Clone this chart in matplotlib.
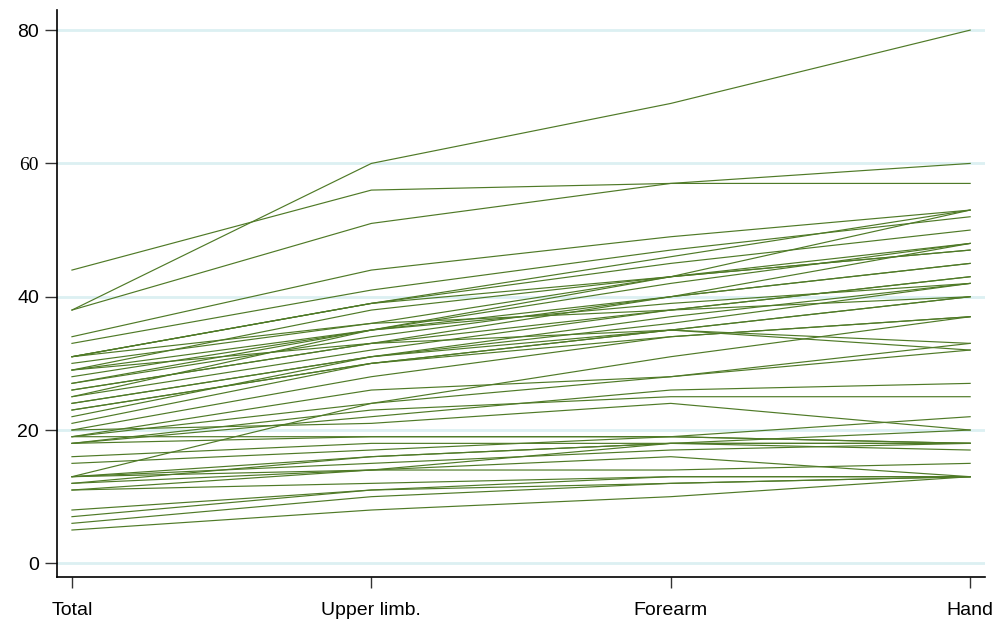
import matplotlib
matplotlib.use("Agg")
import matplotlib.pyplot as plt
import numpy as np

# Scores per subject, one entry per subject in each region
regions = ["Total", "Upper limb.", "Forearm", "Hand"]
total = [44, 38, 38, 34, 33, 31, 31, 31, 30, 29, 29, 28, 27, 27, 26, 26, 25, 25,
         24, 24, 23, 23, 22, 21, 29, 20, 19, 13, 19, 18, 20, 18, 19, 16, 15, 13,
         12, 13, 11, 12, 11, 13, 8, 7, 6, 5, 31, 18]
upper = [56, 60, 51, 44, 41, 39, 39, 39, 36, 35, 38, 35, 35, 34, 33, 33, 32, 35,
         31, 31, 30, 30, 31, 30, 33, 28, 24, 24, 26, 22, 21, 23, 19, 18, 17, 16,
         16, 15, 14, 14, 12, 14, 11, 11, 10, 8, 36, 19]
forearm = [57, 69, 57, 49, 47, 46, 45, 43, 43, 42, 43, 40, 43, 40, 40, 38, 38, 39,
           37, 35, 35, 34, 36, 35, 35, 34, 31, 28, 28, 26, 24, 25, 19, 18, 19, 18,
           18, 17, 16, 14, 13, 18, 12, 13, 12, 10, 38, 19]
hand = [57, 80, 60, 53, 52, 53, 50, 48, 53, 48, 47, 48, 47, 45, 45, 43, 43, 42,
        42, 40, 40, 37, 42, 33, 32, 37, 37, 32, 33, 27, 20, 25, 22, 20, 18, 18,
        18, 18, 13, 15, 13, 17, 13, 13, 13, 13, 40, 18]

line_color = "#4f7a27"
grid_color = "#dcf0f2"

plt.rcParams["font.family"] = ["Liberation Sans", "DejaVu Sans"]

fig = plt.figure(figsize=(9.98, 6.25), dpi=100)
ax = fig.add_axes([0.0571, 0.0768, 0.930, 0.907])

x = np.arange(len(regions))
for i in range(len(total)):
    ax.plot(x, [total[i], upper[i], forearm[i], hand[i]],
            color=line_color, linewidth=0.85, zorder=3)

yticks = [0, 20, 40, 60, 80]
for y in yticks:
    ax.axhline(y, color=grid_color, linewidth=2.0, zorder=1)

ax.set_xlim(-0.05, 3.05)
ax.set_ylim(-2.05, 83.0)
ax.set_xticks(x)
ax.set_xticklabels(regions, fontsize=14)
ax.set_yticks(yticks)
ax.set_yticklabels([str(v) for v in yticks], fontsize=14)
for lbl in ax.get_yticklabels():
    if lbl.get_text() == "60":
        lbl.set_fontfamily("Liberation Serif")

ax.tick_params(axis="y", direction="out", length=9, width=1.0, pad=4, color="#333333")
ax.tick_params(axis="x", direction="out", length=8, width=1.0, pad=10, color="#333333")

ax.spines["top"].set_visible(False)
ax.spines["right"].set_visible(False)
ax.spines["left"].set_linewidth(1.2)
ax.spines["bottom"].set_linewidth(1.2)

fig.savefig("out.png", dpi=100)
